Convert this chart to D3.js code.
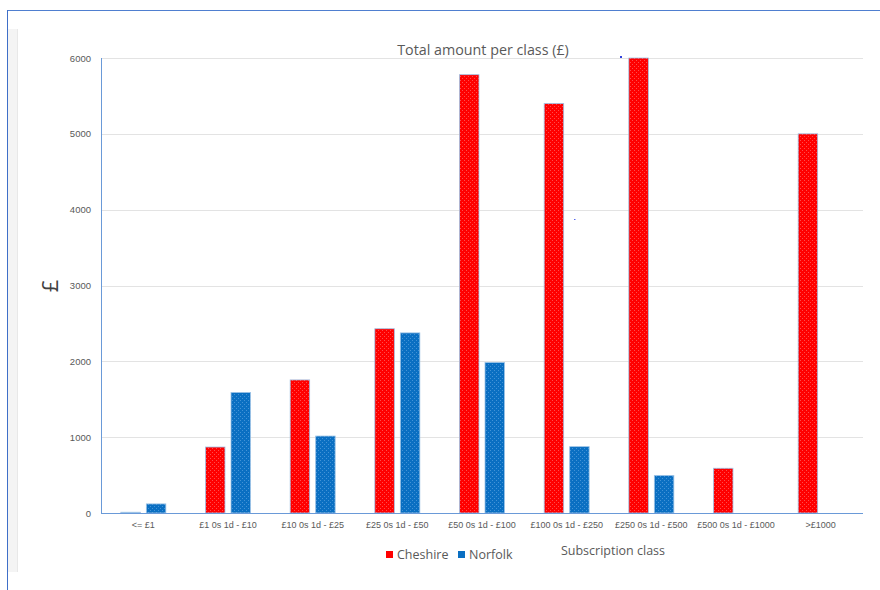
<!DOCTYPE html>
<html><head><meta charset="utf-8">
<script src="https://cdn.jsdelivr.net/npm/d3@7"></script>
<style>body{margin:0;background:#fff}svg{display:block;font-family:"Open Sans","Noto Sans",sans-serif}</style>
</head><body>
<svg id="c" width="880" height="590"></svg>
<script>
const categories = ["<= £1","£1 0s 1d - £10","£10 0s 1d - £25","£25 0s 1d - £50","£50 0s 1d - £100","£100 0s 1d - £250","£250 0s 1d - £500","£500 0s 1d - £1000",">£1000"];
const seriesNames = ["Cheshire","Norfolk"];
const cheshire = [10, 870, 1755, 2430, 5780, 5400, 6000, 590, 5000];
const norfolk = [120, 1590, 1015, 2375, 1985, 875, 495, 0, 0];
const yTicks = [0,1000,2000,3000,4000,5000,6000];
const colors = {Cheshire:"#ff0000", Norfolk:"#0a6fc2"};

const svg = d3.select("#c");
const defs = svg.append("defs");
function pat(id, base, dot){
  const p = defs.append("pattern").attr("id",id).attr("patternUnits","userSpaceOnUse").attr("width",4).attr("height",4);
  p.append("rect").attr("width",4).attr("height",4).attr("fill",base);
  p.append("rect").attr("x",0).attr("y",0).attr("width",1).attr("height",1).attr("fill",dot).attr("opacity",0.55);
  p.append("rect").attr("x",2).attr("y",2).attr("width",1).attr("height",1).attr("fill",dot).attr("opacity",0.55);
}
pat("pC","#ff0000","#ff8a8a");
pat("pN","#0a6fc2","#6fb0e8");

// frame
svg.append("rect").attr("x",8).attr("y",29).attr("width",10).attr("height",543).attr("fill","#f4f4f4");
svg.append("line").attr("x1",17.5).attr("x2",17.5).attr("y1",29).attr("y2",572).attr("stroke","#e8e8e8");
svg.append("line").attr("x1",7).attr("x2",880).attr("y1",10.5).attr("y2",10.5).attr("stroke","#4f7fd0").attr("stroke-width",1);
svg.append("line").attr("x1",7.5).attr("x2",7.5).attr("y1",10).attr("y2",590).attr("stroke","#3f6fc8").attr("stroke-width",1);

const m = {l:101, r:863, t:58, b:513};
const x0 = d3.scaleBand().domain(categories).range([m.l,m.r]).paddingInner(0).paddingOuter(0);
const y = d3.scaleLinear().domain([0,6000]).range([m.b,m.t]);

// gridlines
svg.append("g").selectAll("line").data(yTicks.filter(d=>d>0)).join("line")
  .attr("x1",m.l).attr("x2",m.r).attr("y1",d=>Math.round(y(d))+0.5).attr("y2",d=>Math.round(y(d))+0.5)
  .attr("stroke","#e3e3e3");

// y axis labels
const yAxis = d3.axisLeft(y).tickValues(yTicks).tickSize(0).tickPadding(10).tickFormat(d3.format("d"));
const ga = svg.append("g").attr("transform",`translate(${m.l},0)`).call(yAxis);
ga.select(".domain").remove();
ga.selectAll("text").attr("fill","#595959").style("font-size","9.5px");

// bars
const bw = 19.5, gap = 6;
const data = categories.map((c,i)=>({c, vals:[cheshire[i], norfolk[i]]}));
const g = svg.append("g");
data.forEach(d=>{
  const cx = x0(d.c) + x0.bandwidth()/2;
  d.vals.forEach((v,j)=>{
    if(v<=0) return;
    const xx = j===0 ? cx - gap/2 - bw : cx + gap/2;
    g.append("rect").attr("x",xx).attr("y",y(v)).attr("width",bw).attr("height",y(0)-y(v))
      .attr("fill", j===0 ? "url(#pC)" : "url(#pN)")
      .attr("stroke","#9dc3e6").attr("stroke-width",0.8);
  });
});

// axes lines
svg.append("line").attr("x1",m.l+0.5).attr("x2",m.l+0.5).attr("y1",m.t).attr("y2",m.b).attr("stroke","#6a9ad8").attr("stroke-width",1);
svg.append("line").attr("x1",m.l).attr("x2",m.r).attr("y1",m.b+0.5).attr("y2",m.b+0.5).attr("stroke","#6a9ad8").attr("stroke-width",1.2);

// x labels
const xAxis = d3.axisBottom(x0).tickSize(0).tickPadding(9);
const gx = svg.append("g").attr("transform",`translate(0,${m.b})`).call(xAxis);
gx.select(".domain").remove();
gx.selectAll("text").attr("fill","#595959").style("font-size","9px");

// title
svg.append("text").attr("x",483).attr("y",55).attr("text-anchor","middle").attr("fill","#595959")
  .style("font-size","14.3px").text("Total amount per class (£)");
// y title
svg.append("text").attr("transform","translate(58,286) rotate(-90)").attr("text-anchor","middle").attr("fill","#404040")
  .style("font-size","22px").text("£");
// x title
svg.append("text").attr("x",613).attr("y",555).attr("text-anchor","middle").attr("fill","#595959")
  .style("font-size","12.5px").text("Subscription class");

// legend
const lg = svg.append("g");
const legX = [386, 458];
seriesNames.forEach((s,i)=>{
  lg.append("rect").attr("x",legX[i]).attr("y",551).attr("width",7).attr("height",7).attr("fill",colors[s]);
  lg.append("text").attr("x",legX[i]+11).attr("y",559).attr("fill","#595959").style("font-size","12.5px").text(s);
});

// small stray marks in original
svg.append("rect").attr("x",620).attr("y",56).attr("width",2).attr("height",2).attr("fill","#3344dd");
svg.append("rect").attr("x",574).attr("y",219).attr("width",1.5).attr("height",1).attr("fill","#5566ee");
</script>
</body></html>
